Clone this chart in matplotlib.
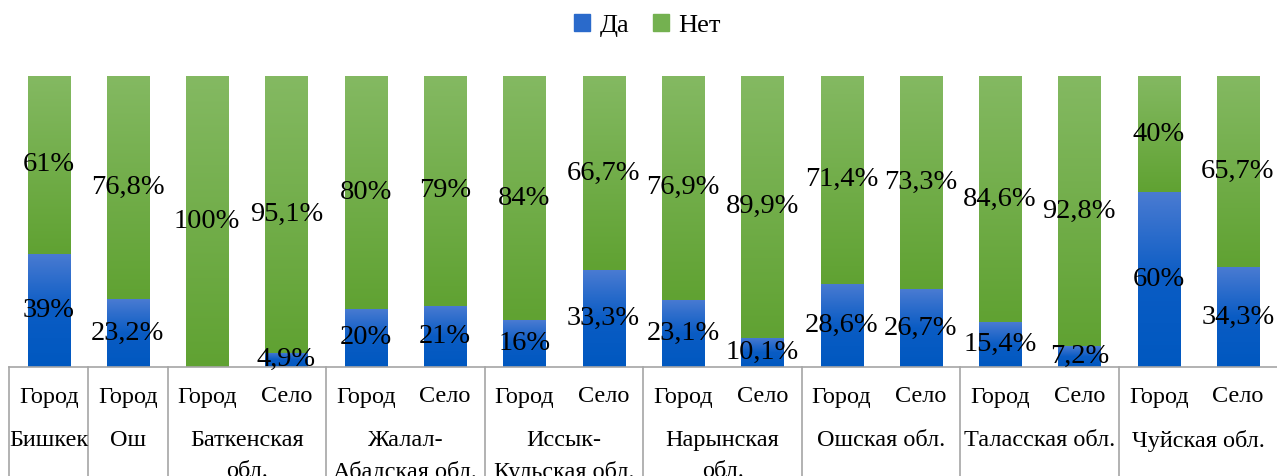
import numpy as np
import matplotlib.pyplot as plt
from matplotlib.colors import LinearSegmentedColormap

plt.rcParams['font.family'] = ['Liberation Serif', 'DejaVu Serif']

sub_labels = ["Город", "Город", "Город", "Село", "Город", "Село", "Город", "Село",
              "Город", "Село", "Город", "Село", "Город", "Село", "Город", "Село"]
groups = ["Бишкек", "Ош", "Баткенская\nобл.", "Жалал-\nАбадская обл.", "Иссык-\nКульская обл.",
          "Нарынская\nобл.", "Ошская обл.", "Таласская обл.", "Чуйская обл."]
group_sizes = [1, 1, 2, 2, 2, 2, 2, 2, 2]

da = [39, 23.2, 0, 4.9, 20, 21, 16, 33.3, 23.1, 10.1, 28.6, 26.7, 15.4, 7.2, 60, 34.3]
net = [61, 76.8, 100, 95.1, 80, 79, 84, 66.7, 76.9, 89.9, 71.4, 73.3, 84.6, 92.8, 40, 65.7]
da_labels = ["39%", "23,2%", "", "4,9%", "20%", "21%", "16%", "33,3%",
             "23,1%", "10,1%", "28,6%", "26,7%", "15,4%", "7,2%", "60%", "34,3%"]
net_labels = ["61%", "76,8%", "100%", "95,1%", "80%", "79%", "84%", "66,7%",
              "76,9%", "89,9%", "71,4%", "73,3%", "84,6%", "92,8%", "40%", "65,7%"]

blue_cmap = LinearSegmentedColormap.from_list("b", [(0, "#0058c0"), (0.5, "#0a5cc4"), (1, "#4a7bd2")])
green_cmap = LinearSegmentedColormap.from_list("g", [(0, "#60a232"), (1, "#84b962")])

fig = plt.figure(figsize=(12.77, 4.76), dpi=100)
ax = fig.add_axes([9 / 1277, 109 / 476, 1290 / 1277, 291 / 476])
x = np.arange(len(da))
w = 0.53

b1 = ax.bar(x, da, w, color="#0058c0", label="Да")
b2 = ax.bar(x, net, w, bottom=da, color="#6aac43", label="Нет")

grad = np.linspace(0, 1, 256).reshape(-1, 1)
for bars, cmap in ((b1, blue_cmap), (b2, green_cmap)):
    for p in bars:
        if p.get_height() <= 0:
            continue
        x0, y0 = p.get_x(), p.get_y()
        im = ax.imshow(grad, cmap=cmap, origin="lower", aspect="auto",
                       extent=(x0, x0 + p.get_width(), y0, y0 + p.get_height()), zorder=2)
        im.set_clip_path(p)
        p.set_alpha(0)

for i in range(len(da)):
    if da_labels[i]:
        ax.text(x[i], da[i] / 2, da_labels[i], ha="center", va="center", fontsize=20.5, zorder=5)
    ax.text(x[i], da[i] + net[i] / 2, net_labels[i], ha="center", va="center", fontsize=20.5, zorder=5)

ax.set_xlim(-0.5, 15.77)
ax.set_ylim(0, 100)
ax.axis("off")

# category table below
trans = ax.get_xaxis_transform()
ax.plot([-0.5, 16.5], [0, 0], color="#a6a6a6", lw=1.2, transform=trans, clip_on=False)
pos = -0.5
bounds = [pos]
for s in group_sizes:
    pos += s
    bounds.append(pos)
for b in bounds:
    ax.plot([b, b], [0, -0.40], color="#a6a6a6", lw=1.2, transform=trans, clip_on=False)
for i, lab in enumerate(sub_labels):
    ax.text(x[i], -30 / 291, lab, ha="center", va="center", fontsize=17.5, transform=trans)
for g, lab in enumerate(groups):
    cx = (bounds[g] + bounds[g + 1]) / 2
    ax.text(cx, -63 / 291, lab, ha="center", va="top", fontsize=17.5, transform=trans,
            linespacing=1.6)

fig.legend(handles=[b1, b2], labels=["Да", "Нет"], loc="center", bbox_to_anchor=(0.507, 0.947),
           ncol=2, frameon=False, fontsize=19, handlelength=0.62, handleheight=0.62,
           handletextpad=0.35, columnspacing=0.9)
for h, c in zip(fig.legends[0].legend_handles, ["#2a6acb", "#74b150"]):
    h.set_alpha(1)
    h.set_color(c)

fig.savefig("out.png", dpi=100)
